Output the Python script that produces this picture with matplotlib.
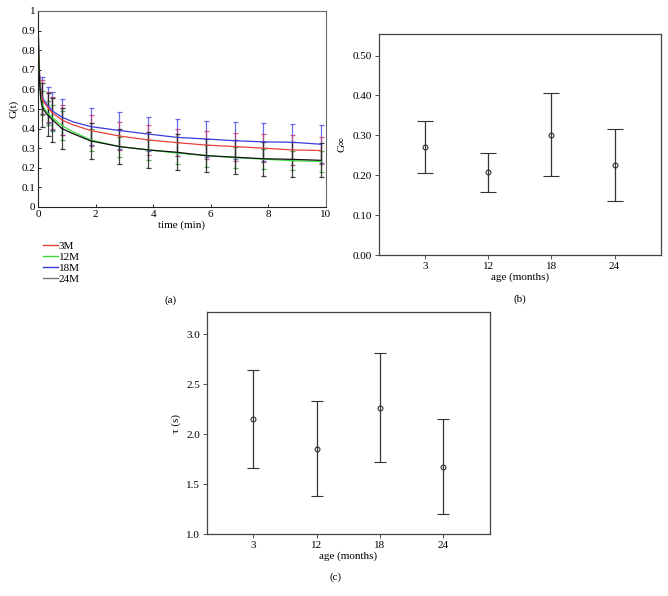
import numpy as np
import matplotlib
matplotlib.use('Agg')
import matplotlib.pyplot as plt

plt.rcParams['font.family'] = ['Liberation Serif', 'DejaVu Serif']
plt.rcParams['font.size'] = 8

# (a) relaxation curves G(t), fitted lines
t_fit = [0, 0.02, 0.05, 0.09, 0.13, 0.2, 0.33, 0.5, 0.83, 1.2, 1.83, 2.83,
         3.83, 4.83, 5.83, 6.83, 7.83, 8.83, 9.83]
fit_3m = [1.0, 0.82, 0.68, 0.6, 0.56, 0.535, 0.51, 0.48, 0.444, 0.42, 0.39,
          0.362, 0.342, 0.328, 0.316, 0.308, 0.30, 0.291, 0.288]
fit_12m = [1.0, 0.80, 0.66, 0.57, 0.53, 0.505, 0.48, 0.455, 0.415, 0.385,
           0.342, 0.308, 0.291, 0.275, 0.262, 0.252, 0.244, 0.236, 0.232]
fit_18m = [1.0, 0.83, 0.69, 0.61, 0.57, 0.545, 0.52, 0.49, 0.458, 0.435,
           0.41, 0.39, 0.372, 0.355, 0.347, 0.338, 0.332, 0.33, 0.32]
fit_24m = [1.0, 0.79, 0.65, 0.56, 0.52, 0.495, 0.47, 0.445, 0.40, 0.375,
           0.337, 0.308, 0.291, 0.279, 0.262, 0.254, 0.246, 0.243, 0.238]

# (a) measured points with standard deviations
t_pts = [0.13, 0.33, 0.5, 0.83, 1.83, 2.83, 3.83, 4.83, 5.83, 6.83, 7.83,
         8.83, 9.83]
sd_3m = [0.088, 0.078, 0.08, 0.076, 0.078, 0.073, 0.076, 0.07, 0.072, 0.071,
         0.071, 0.076, 0.067]
sd_12m = [0.06, 0.06, 0.065, 0.073, 0.055, 0.051, 0.051, 0.054, 0.056, 0.055,
          0.052, 0.047, 0.052]
sd_18m = [0.095, 0.09, 0.095, 0.092, 0.093, 0.093, 0.088, 0.094, 0.092,
          0.094, 0.095, 0.092, 0.097]
sd_24m = [0.11, 0.11, 0.112, 0.104, 0.092, 0.089, 0.091, 0.092, 0.085, 0.087,
          0.086, 0.088, 0.086]

# (b), (c) per age group
ages = ['3', '12', '18', '24']
g_inf = [0.271, 0.207, 0.301, 0.226]
g_inf_sd = [0.065, 0.048, 0.104, 0.091]
tau = [2.15, 1.853, 2.265, 1.673]
tau_sd = [0.49, 0.473, 0.545, 0.474]

fig = plt.figure(figsize=(6.68, 5.96), dpi=100)

# ---- panel (a)
ax1 = fig.add_axes([0.0569, 0.6527, 0.431, 0.329])
series = [('3M', fit_3m, sd_3m, '#e8413a', '#c0407a'),
          ('12M', fit_12m, sd_12m, '#3ddc3d', '#3aa03a'),
          ('18M', fit_18m, sd_18m, '#3a3ae0', '#5050e8'),
          ('24M', fit_24m, sd_24m, '#111111', '#222222')]
draw_order = [2, 0, 1, 3]
for i in draw_order:
    name, fit, sd, col, ecol = series[i]
    mean_pts = [fit[t_fit.index(t)] for t in t_pts]
    ax1.errorbar(t_pts, mean_pts, yerr=sd, fmt='none', ecolor=ecol,
                 elinewidth=0.9, capsize=1.8, capthick=0.9, alpha=0.85)
for i in draw_order:
    name, fit, sd, col, ecol = series[i]
    ax1.plot(t_fit, fit, color=col, lw=0.9)
ax1.set_xlim(0, 10)
ax1.set_ylim(0, 1)
ax1.set_xticks(range(0, 11, 2))
ax1.set_yticks(np.arange(0, 1.01, 0.1))
ax1.set_yticklabels(['0', '0.1', '0.2', '0.3', '0.4', '0.5', '0.6', '0.7',
                     '0.8', '0.9', '1'])
ax1.tick_params(direction='in', length=2, width=0.6, pad=2)
for s in ax1.spines.values():
    s.set_color('#666666')
    s.set_linewidth(0.8)
ax1.spines['left'].set_color('#222222')
ax1.spines['bottom'].set_color('#222222')
ax1.set_xlabel('time (min)', labelpad=1)
ax1.set_ylabel('G(t)', labelpad=2)

leg_handles = []
for name, fit, sd, col, ecol in series:
    c = '#777777' if name == '24M' else col
    h, = ax1.plot([], [], color=c, lw=1, label=name)
    leg_handles.append(h)
fig.legend(handles=leg_handles, loc='upper left',
           bbox_to_anchor=(0.058, 0.603), frameon=False, handlelength=1.3,
           handletextpad=0.1, labelspacing=0.1, borderaxespad=0,
           fontsize=8)
fig.text(0.255, 0.497, '(a)', ha='center', va='center')


def age_panel(rect, vals, sds, ylim, yticks, fmt, ylabel, capsize):
    ax = fig.add_axes(rect)
    x = np.arange(1, len(ages) + 1)
    ax.errorbar(x, vals, yerr=sds, fmt='o', mfc='none', mec='#333333',
                mew=0.8, ms=3.5, ecolor='#333333', elinewidth=0.9,
                capsize=capsize, capthick=0.9)
    ax.set_xlim(0.27, 4.73)
    ax.set_ylim(*ylim)
    ax.set_xticks(x)
    ax.set_xticklabels(ages)
    ax.set_yticks(yticks)
    ax.set_yticklabels([fmt.format(v) for v in yticks])
    ax.tick_params(direction='out', length=3, width=0.6, pad=2,
                   color='#333333')
    for s in ax.spines.values():
        s.set_color('#444444')
        s.set_linewidth(0.9)
    ax.set_xlabel('age (months)', labelpad=1)
    ax.set_ylabel(ylabel, labelpad=4)
    return ax


age_panel([0.567, 0.572, 0.422, 0.371], g_inf, g_inf_sd, (0, 0.554),
          np.arange(0, 0.51, 0.1), '{:.2f}', 'G∞', 6)
fig.text(0.778, 0.498, '(b)', ha='center', va='center')

age_panel([0.310, 0.104, 0.423, 0.3725], tau, tau_sd, (1.0, 3.22),
          np.arange(1.0, 3.01, 0.5), '{:.1f}', 'τ (s)', 4.5)
fig.text(0.503, 0.032, '(c)', ha='center', va='center')

fig.savefig('out.png', dpi=100)
